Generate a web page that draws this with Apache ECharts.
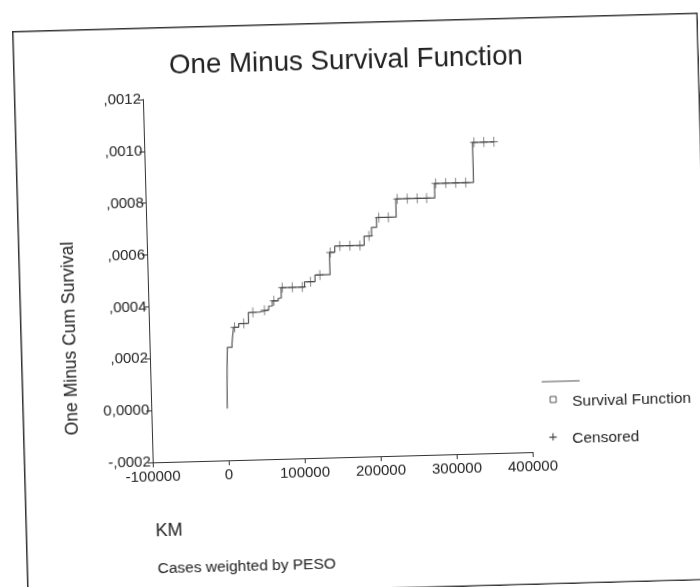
<!DOCTYPE html>
<html>
<head>
<meta charset="utf-8">
<script src="https://cdn.jsdelivr.net/npm/echarts@6/dist/echarts.min.js"></script>
<style>
  html, body { margin: 0; padding: 0; background: #fff; overflow: hidden; width: 700px; height: 587px; }
  #wrap { position: absolute; left: 12px; top: 31px; width: 686px; height: 568px;
          transform-origin: 0 0; transform: rotate(-1.55deg); }
  #chart { width: 686px; height: 568px; }
</style>
</head>
<body>
<div id="wrap"><div id="chart"></div></div>
<script>
// Kaplan-Meier estimate: event times (KM) and cumulative one-minus-survival after each event
const eventTimes = [0, 300, 800, 1500, 2200, 8500, 11000, 18000, 31000, 45000, 58000, 63000,
  71000, 75000, 106000, 120000, 140000, 147000, 186000, 196000, 203000, 229000, 280500, 332000];
const oneMinusSurvival = [0, 0.00005, 0.00012, 0.00018, 0.000235, 0.00025, 0.000312, 0.000326,
  0.000368, 0.000375, 0.00039, 0.00041, 0.00042, 0.00046, 0.00048, 0.000505, 0.000591, 0.000615,
  0.00065, 0.000683, 0.00072, 0.00079, 0.000846, 0.001];

// Censored observations (KM)
const censorTimes = [12400, 24700, 37000, 52500, 65000, 76600, 89800, 102900, 114100, 126500,
  141000, 153800, 167000, 180200, 192400, 206200, 218600, 231100, 244300, 257400, 269700,
  282000, 295200, 308300, 321500, 334000, 347000, 360200];

// Axis ticks
const xTicks = [-100000, 0, 100000, 200000, 300000, 400000];
const yTickLabels = ['-,0002', '0,0000', ',0002', ',0004', ',0006', ',0008', ',0010', ',0012'];
const yMin = -0.0002, yMax = 0.0012, yStep = 0.0002;

// value of the step function at time t
function levelAt(t) {
  let y = 0;
  for (let i = 0; i < eventTimes.length; i++) {
    if (eventTimes[i] <= t) y = oneMinusSurvival[i];
  }
  return y;
}

const curve = eventTimes.map((t, i) => [t, oneMinusSurvival[i]]);
const lastCensor = censorTimes[censorTimes.length - 1];
curve.push([lastCensor, levelAt(lastCensor)]);
const censored = censorTimes.map(t => [t, levelAt(t)]);

const FONT = '"Liberation Sans", Arial, Helvetica, sans-serif';
const INK = '#222';
const PLUS = 'path://M4.5,0h1v4.5h4.5v1h-4.5v4.5h-1v-4.5h-4.5v-1h4.5z';

const chart = echarts.init(document.getElementById('chart'), null, { renderer: 'canvas' });
chart.setOption({
  animation: false,
  backgroundColor: '#fff',
  grid: { left: 129, top: 72, width: 380, height: 363 },
  xAxis: {
    type: 'value', min: xTicks[0], max: xTicks[xTicks.length - 1], interval: 100000,
    splitLine: { show: false },
    axisLine: { onZero: false, lineStyle: { color: '#333', width: 1 } },
    axisTick: { show: true, length: 5, lineStyle: { color: '#333' } },
    axisLabel: { margin: 7, color: INK, fontSize: 15, fontFamily: FONT,
                 showMinLabel: true, showMaxLabel: true, formatter: v => String(v) }
  },
  yAxis: {
    type: 'value', min: yMin, max: yMax, interval: yStep,
    splitLine: { show: false },
    axisLine: { show: true, onZero: false, lineStyle: { color: '#333', width: 1 } },
    axisTick: { show: true, length: 5, lineStyle: { color: '#333' } },
    axisLabel: { margin: 2, color: INK, fontSize: 15, fontFamily: FONT,
                 showMinLabel: true, showMaxLabel: true,
                 formatter: v => yTickLabels[Math.round((v - yMin) / yStep)] }
  },
  series: [
    {
      name: 'Survival Function', type: 'line', step: 'end', data: curve,
      showSymbol: false, lineStyle: { color: '#555', width: 1.2 }, z: 2
    },
    {
      name: 'Censored', type: 'scatter', data: censored, symbol: PLUS, symbolSize: [8, 10],
      itemStyle: { color: '#444' }, z: 3
    }
  ],
  graphic: [
    { type: 'rect', shape: { x: 0.75, y: 0.75, width: 684.5, height: 566.5 },
      style: { fill: 'none', stroke: '#333', lineWidth: 1.5 } },
    { type: 'text', x: 333, y: 39.5,
      style: { text: 'One Minus Survival Function', fill: INK, fontSize: 27.7, fontFamily: FONT,
               align: 'center', verticalAlign: 'middle' } },
    { type: 'text', x: 50, y: 309, rotation: Math.PI / 2,
      style: { text: 'One Minus Cum Survival', fill: INK, fontSize: 17.5, fontFamily: FONT,
               align: 'center', verticalAlign: 'middle' } },
    { type: 'text', x: 130, y: 504,
      style: { text: 'KM', fill: INK, fontSize: 18, fontFamily: FONT,
               align: 'left', verticalAlign: 'middle' } },
    { type: 'text', x: 131, y: 542,
      style: { text: 'Cases weighted by PESO', fill: INK, fontSize: 15.5, fontFamily: FONT,
               align: 'left', verticalAlign: 'middle' } },
    // legend
    { type: 'line', shape: { x1: 520, y1: 365, x2: 558, y2: 365 },
      style: { stroke: '#555', lineWidth: 1.2 } },
    { type: 'rect', shape: { x: 528, y: 380, width: 6, height: 6 },
      style: { fill: 'none', stroke: '#555', lineWidth: 1 } },
    { type: 'text', x: 550, y: 386,
      style: { text: 'Survival Function', fill: INK, fontSize: 15.5, fontFamily: FONT,
               align: 'left', verticalAlign: 'middle' } },
    { type: 'text', x: 530, y: 421,
      style: { text: '+', fill: '#444', fontSize: 15, fontFamily: FONT,
               align: 'center', verticalAlign: 'middle' } },
    { type: 'text', x: 549, y: 423,
      style: { text: 'Censored', fill: INK, fontSize: 15.5, fontFamily: FONT,
               align: 'left', verticalAlign: 'middle' } }
  ]
});
</script>
</body>
</html>
